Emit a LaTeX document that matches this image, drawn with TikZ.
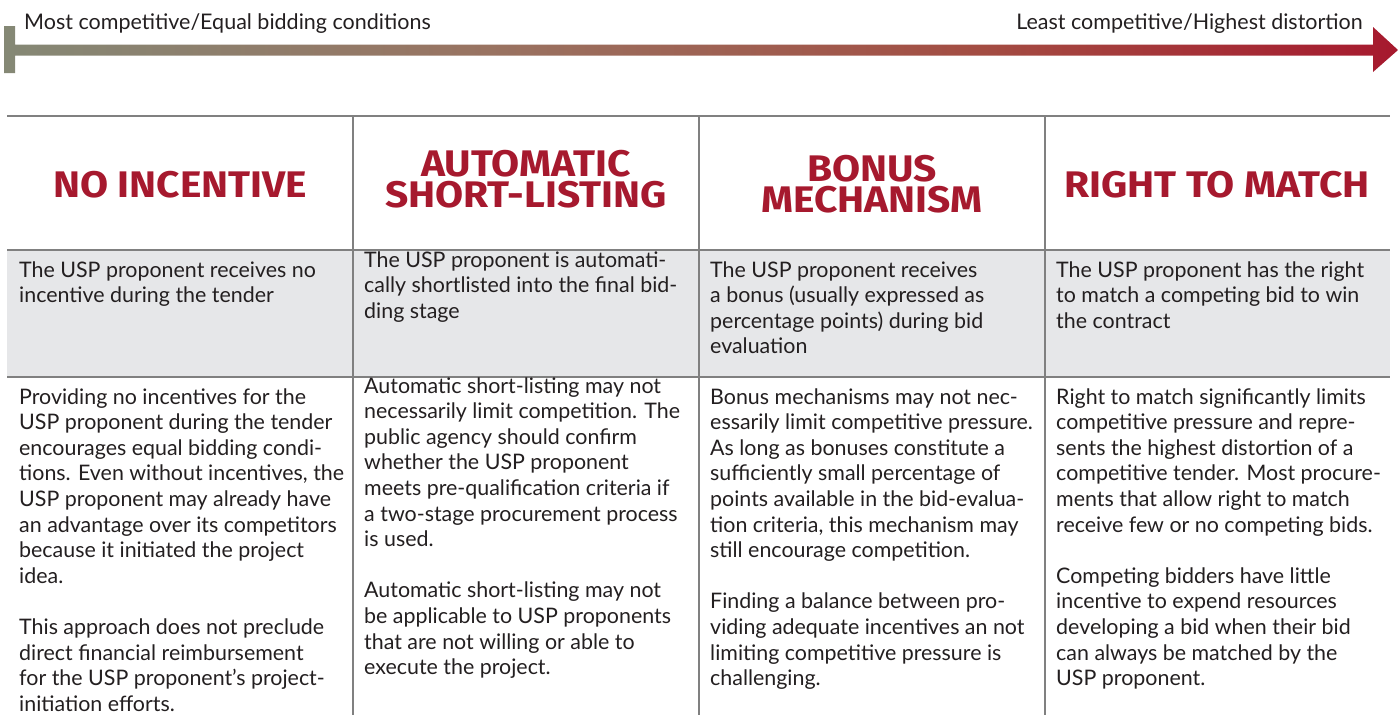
\documentclass[tikz,border=0pt]{standalone}
\usepackage{fontspec}
\setmainfont{Lato}
\newfontfamily\bodyfont{Lato}
\newfontfamily\hdfont[FakeStretch=1.1]{Fira Sans}
\definecolor{hred}{RGB}{166,25,46}
\definecolor{txt}{RGB}{35,31,32}
\definecolor{rulegray}{RGB}{128,128,128}
\definecolor{rowgray}{RGB}{230,231,233}
\pgfdeclarehorizontalshading{scale}{100bp}{%
  rgb(0bp)=(0.52,0.533,0.459);
  rgb(25bp)=(0.52,0.533,0.459);
  rgb(42.5bp)=(0.60,0.45,0.38);
  rgb(60bp)=(0.64,0.30,0.26);
  rgb(75bp)=(0.651,0.098,0.18);
  rgb(100bp)=(0.651,0.098,0.18)}
\newcommand\para[4]{\foreach \ln [count=\i from 0] in {#4} {\node[body] (#3-\i) at (#1,{#2+\i*25.6}) {\ln};}}
\tikzset{
  body/.style={font=\bodyfont\fontsize{21.4}{24}\selectfont, text=txt, inner sep=0pt, anchor=base west},
  lbl/.style={font=\bodyfont\fontsize{21.5}{24}\selectfont, text=txt, inner sep=0pt},
  head/.style={font=\hdfont\bfseries\fontsize{37}{31.5}\selectfont, text=hred, inner sep=0pt, align=center},
  rule/.style={draw=rulegray, line width=1.5pt},
}
\begin{document}
\begin{tikzpicture}[x=1pt,y=-1pt]
\useasboundingbox (0,0) rectangle (1399,715);
% scale arrow
\shade[shading=scale] (4,26) -- (15,26) -- (15,44.5) -- (1373,44.5) -- (1373,27) -- (1398,50) -- (1373,72) -- (1373,55.5) -- (15,55.5) -- (15,73) -- (4,73) -- cycle;
\node[lbl, anchor=base west] (lo) at (24,29) {Most competitive/Equal bidding conditions};
\node[lbl, anchor=base east] (hi) at (1363,29) {Least competitive/Highest distortion};
% table
\fill[rowgray] (7,250) rectangle (1390,377);
\draw[rule] (7,116) -- (1390,116);
\draw[rule] (7,250) -- (1390,250);
\draw[rule] (7,377) -- (1390,377);
\foreach \x in {353,699,1045} \draw[rule] (\x,116) -- (\x,715);
% headings
\node[head, anchor=base] (h1) at (180,197) {NO INCENTIVE};
\node[head, anchor=center] (h2) at (526,179) {AUTOMATIC\\SHORT-LISTING};
\node[head, anchor=center] (h3) at (872,184) {BONUS\\MECHANISM};
\node[head, anchor=base] (h4) at (1217,197) {RIGHT TO MATCH};
% gray row
\para{19}{277}{g1}{The USP proponent receives no, incentive during the tender}
\para{364}{267}{g2}{The USP proponent is automati-, cally shortlisted into the final bid-, ding stage}
\para{710}{277}{g3}{The USP proponent receives, a bonus (usually expressed as, percentage points) during bid, evaluation}
\para{1056}{277}{g4}{The USP proponent has the right, to match a competing bid to win, the contract}
% body row
\para{19}{404}{b1}{Providing no incentives for the, USP proponent during the tender, encourages equal bidding condi-, {tions. Even without incentives, the}, USP proponent may already have, an advantage over its competitors, because it initiated the project, idea., {}, This approach does not preclude, direct financial reimbursement, for the USP proponent’s project-, initiation efforts.}
\para{364}{393}{b2}{Automatic short-listing may not, necessarily limit competition. The, public agency should confirm, whether the USP proponent, meets pre-qualification criteria if, a two-stage procurement process, is used., {}, Automatic short-listing may not, be applicable to USP proponents, that are not willing or able to, execute the project.}
\para{710}{404}{b3}{Bonus mechanisms may not nec-, essarily limit competitive pressure., As long as bonuses constitute a, sufficiently small percentage of, points available in the bid-evalua-, {tion criteria, this mechanism may}, still encourage competition., {}, Finding a balance between pro-, viding adequate incentives an not, limiting competitive pressure is, challenging.}
\para{1056}{404}{b4}{Right to match significantly limits, competitive pressure and repre-, sents the highest distortion of a, competitive tender. Most procure-, ments that allow right to match, receive few or no competing bids., {}, Competing bidders have little, incentive to expend resources, developing a bid when their bid, can always be matched by the, USP proponent.}
\end{tikzpicture}
\end{document}
